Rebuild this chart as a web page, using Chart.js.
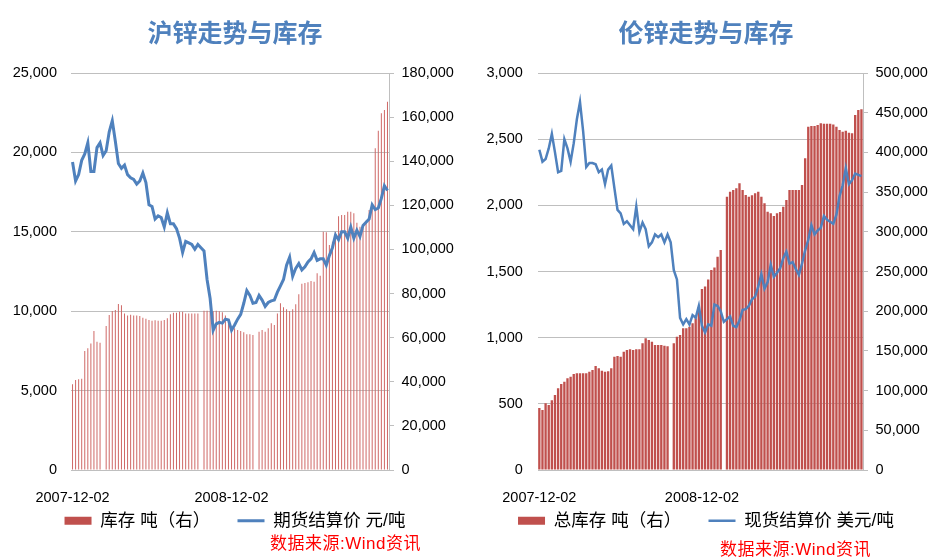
<!DOCTYPE html>
<html>
<head>
<meta charset="utf-8">
<script src="https://cdn.jsdelivr.net/npm/chart.js@4.4.1/dist/chart.umd.min.js"></script>
<style>
    html, body { margin: 0; padding: 0; background: #fff; }
    #wrap { position: relative; width: 929px; height: 558px; overflow: hidden; }
    canvas { position: absolute; top: 0; }
    #shChart { left: 0; }
    #lmeChart { left: 483px; }
    .source {
        position: absolute;
        color: #ff0000;
        font: 17px "Liberation Sans", "Noto Sans CJK SC", sans-serif;
        line-height: 17px;
        letter-spacing: 0.5px;
        white-space: nowrap;
    }
</style>
</head>
<body>
<div id="wrap">
    <canvas id="shChart" width="470" height="558"></canvas>
    <canvas id="lmeChart" width="446" height="558"></canvas>
    <div class="source" style="left:270px; top:534.5px;">数据来源:Wind资讯</div>
    <div class="source" style="left:720px; top:540.5px;">数据来源:Wind资讯</div>
</div>
<script>
// Weekly categories, Dec 2007 - Nov 2009
const weeks = [];
for (let d = new Date(Date.UTC(2007, 11, 2)); weeks.length < 104; d.setUTCDate(d.getUTCDate() + 7)) {
    weeks.push(d.toISOString().slice(0, 10));
}
const xTickLabels = ['2007-12-02', '2008-12-02'];
const xTickIndex = [0, 52];

// SHFE zinc: futures settlement (yuan/t) and warehouse stocks (t)
const shPrice = [
    19400, 18200, 18600, 19500, 19900, 20600, 18800, 18800, 20300, 20600,
    19800, 20100, 21300, 22000, 20700, 19300, 19000, 19200, 18600, 18400,
    18300, 18000, 18200, 18700, 18100, 16700, 16600, 15800, 16000, 15900,
    15300, 16200, 15500, 15500, 15200, 14600, 13700, 14400, 14300, 14200,
    13900, 14200, 14000, 13800, 12000, 10800, 8800, 9200, 9300, 9250,
    9500, 9450, 8800, 9130, 9500, 9800, 10500, 11300, 11000, 10500,
    10550, 11000, 10700, 10300, 10550, 10650, 10700, 11200, 11600, 12000,
    12900, 13400, 12200, 12700, 13000, 12600, 12800, 13100, 13300, 13700,
    13200, 13300, 13300, 12900, 13500, 14000, 14800, 14500, 15000, 15000,
    14600, 15300, 14600, 15100, 14700, 15400, 15600, 15800, 16700, 16400,
    16500, 17100, 17900, 17600
];
const shStock = [
    38900, 40800, 41100, 41400, 54000, 55200, 57400, 63000, 58200, 57700,
    null, 65300, 70300, 72100, 72500, 75300, 74700, 71000, 70000, 70400,
    70100, 70100, 69800, 69000, 68600, 68000, 67700, 67900, 67700, 67700,
    68000, 68800, 70600, 71300, 71300, 71800, 71800, 71000, 71000, 71000,
    71000, 71000, null, 72200, 72200, 72100, 72000, 72200, 72000, 71500,
    70000, 67000, 64500, 64300, 63500, 63000, 62400, 61500, 61500, 61200,
    null, 62700, 63500, 62700, 64300, 66500, 65700, 71000, 75600, 73800,
    72900, 72100, 72900, 75100, 79700, 84500, 84800, 85100, 85700, 85400,
    89200, 88100, 108000, 107800, 102000, 103500, 108000, 115000, 115600, 115600,
    117100, 117100, 116400, 112100, 110300, 109600, 113000, 117900, 120200, 145900,
    153800, 161700, 163200, 167000
];

// LME zinc: spot settlement (USD/t) and total stocks (t)
const lmePrice = [
    2420, 2330, 2350, 2430, 2540, 2400, 2250, 2260, 2500, 2430,
    2330, 2470, 2650, 2780, 2560, 2290, 2320, 2320, 2310, 2250,
    2270, 2160, 2270, 2300, 2130, 1965, 1940, 1860, 1880, 1850,
    1820, 1990, 1800, 1870, 1820, 1690, 1720, 1780, 1760, 1780,
    1720, 1780, 1720, 1510, 1440, 1150, 1100, 1140, 1100, 1170,
    1150, 1240, 1090, 1040, 1100, 1090, 1250, 1240, 1200, 1120,
    1140, 1160, 1090, 1080, 1130, 1210, 1215, 1240, 1290, 1310,
    1385, 1480, 1370, 1420, 1550, 1460, 1490, 1525, 1600, 1650,
    1560, 1570, 1520, 1475, 1560, 1660, 1740, 1850, 1780, 1810,
    1830, 1920, 1890, 1876, 1860, 1930, 2070, 2150, 2280, 2160,
    2190, 2240, 2230, 2220
];
const lmeStock = [
    78000, 75600, 84000, 82000, 88000, 94500, 103000, 108300, 111200, 115500,
    117500, 120900, 121800, 121800, 122000, 121800, 123800, 125900, 131000, 128100,
    125100, 123800, 124500, 128100, 142700, 143600, 142700, 149000, 151100, 152000,
    151100, 152000, 152000, 159600, 165800, 163700, 161600, 157400, 157400, 157400,
    156500, 156000, null, 159600, 167900, 170000, 178500, 178500, 180500, 184700,
    191000, 205000, 228000, 231000, 240000, 252000, 255000, 268600, 277000, null,
    344200, 350500, 352600, 354800, 361100, 352600, 346300, 344200, 346000, 348500,
    350500, 344200, 335900, 325300, 323300, 320000, 323300, 325000, 331600, 340000,
    352600, 352600, 352600, 352600, 358900, 392600, 432400, 433200, 433200, 434500,
    436600, 436000, 436000, 436000, 435000, 432400, 428200, 426100, 427300, 424800,
    424000, 447100, 453400, 454300
];

const tickFont = { family: '"Liberation Sans", Arial, sans-serif', size: 14.5 };
const legendFont = { family: '"Liberation Sans", "Noto Sans CJK SC", sans-serif', size: 17.5 };
const gridGray = '#bfbfbf';

function buildChart(canvasId, o) {
    return new Chart(document.getElementById(canvasId).getContext('2d'), {
        type: 'bar',
        data: {
            labels: weeks,
            datasets: [{
                type: 'line',
                label: o.lineLabel,
                data: o.price,
                yAxisID: 'y',
                borderColor: '#4f81bd',
                backgroundColor: '#4f81bd',
                borderWidth: o.lineWidth,
                pointRadius: 0,
                pointStyle: 'line',
                tension: 0,
            }, {
                type: 'bar',
                // trailing blanks widen the gap to the next legend item
                label: o.barLabel + ' \u3000',
                data: o.stock,
                yAxisID: 'y1',
                backgroundColor: o.barColor,
                pointStyle: 'rect',
                barThickness: o.barThickness,
                barPercentage: o.barPercentage,
                categoryPercentage: 1,
                inflateAmount: 0,
            }]
        },
        options: {
            responsive: false,
            animation: false,
            layout: { padding: { bottom: 18.5 } },
            plugins: {
                title: {
                    display: true,
                    text: o.title,
                    color: '#4f81bd',
                    font: { family: '"Noto Sans CJK SC", sans-serif', size: 25, weight: 'bold' },
                    padding: { top: 17, bottom: 26 },
                },
                legend: {
                    position: 'bottom',
                    labels: {
                        usePointStyle: true,
                        pointStyleWidth: 27,
                        boxHeight: 8,
                        padding: 5,
                        color: '#000',
                        font: legendFont,
                        sort: (a, b) => b.datasetIndex - a.datasetIndex,
                        generateLabels: (chart) => {
                            const items = Chart.defaults.plugins.legend.labels.generateLabels(chart);
                            items.forEach((it) => {
                                if (it.pointStyle === 'rect') it.fillStyle = '#c0504d';
                            });
                            return items;
                        },
                    },
                },
                tooltip: { enabled: false },
            },
            scales: {
                x: {
                    grid: { display: false, drawTicks: false },
                    border: { display: false },
                    ticks: {
                        autoSkip: false,
                        maxRotation: 0,
                        minRotation: 0,
                        padding: 19,
                        color: '#000',
                        font: tickFont,
                        callback: (v, i) => {
                            const k = xTickIndex.indexOf(i);
                            return k >= 0 ? xTickLabels[k] : null;
                        },
                    },
                    afterFit: (s) => { s.height = 37; },
                },
                y: {
                    position: 'left',
                    min: 0,
                    max: o.yMax,
                    grid: { color: gridGray, drawTicks: false },
                    border: { display: false },
                    ticks: {
                        stepSize: o.yStep,
                        padding: o.yPad,
                        color: '#000',
                        font: tickFont,
                        callback: (v) => v.toLocaleString('en-US'),
                    },
                    afterFit: (s) => { s.width = o.yWidth; },
                },
                y1: {
                    position: 'right',
                    min: 0,
                    max: o.y1Max,
                    grid: { drawOnChartArea: false, tickLength: 5, color: gridGray },
                    border: { display: true, color: gridGray },
                    ticks: {
                        stepSize: o.y1Step,
                        padding: 7.5,
                        color: '#000',
                        font: tickFont,
                        callback: (v) => v.toLocaleString('en-US'),
                    },
                    afterFit: (s) => { s.width = o.y1Width; },
                },
            },
        }
    });
}

buildChart('shChart', {
    title: '沪锌走势与库存',
    lineLabel: '期货结算价 元/吨',
    barLabel: '库存 吨（右）',
    price: shPrice,
    stock: shStock,
    lineWidth: 3,
    barColor: '#cf6866',
    barThickness: 1,
    barPercentage: 0.9,
    yMax: 25000, yStep: 5000, yPad: 14, yWidth: 71,
    y1Max: 180000, y1Step: 20000, y1Width: 81,
});

buildChart('lmeChart', {
    title: '伦锌走势与库存',
    lineLabel: '现货结算价 美元/吨',
    barLabel: '总库存 吨（右）',
    price: lmePrice,
    stock: lmeStock,
    lineWidth: 2.5,
    barColor: '#c0504d',
    barThickness: undefined,
    barPercentage: 0.75,
    yMax: 3000, yStep: 500, yPad: 15, yWidth: 54,
    y1Max: 500000, y1Step: 50000, y1Width: 66,
});
</script>
</body>
</html>
